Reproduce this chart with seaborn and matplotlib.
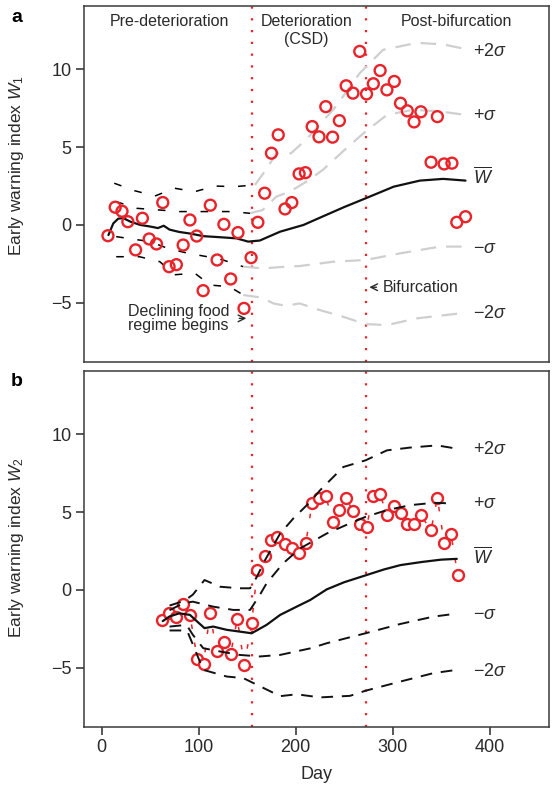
import numpy as np
import pandas as pd
import matplotlib
matplotlib.use("Agg")
import matplotlib.pyplot as plt
import seaborn as sns

# ---------------- data ----------------
# Panel a: early warning index W1
a_day = [6.5, 14, 21, 27, 35, 42, 49, 56.5, 63, 69.5, 77, 84, 91, 98, 104.6, 112, 119, 126,
         133, 140.5, 146.7, 154, 161, 168, 175, 182, 189, 196, 203.5, 210, 217, 224, 231,
         238, 245, 252, 259, 266, 273, 280, 287, 294, 301.6, 308, 315, 322, 329, 339.5,
         346, 353, 361, 366, 375]
a_w = [-0.69, 1.14, 0.88, 0.21, -1.6, 0.43, -0.9, -1.22, 1.44, -2.68, -2.55, -1.29, 0.32,
       -0.71, -4.22, 1.27, -2.25, 0.04, -3.47, -0.49, -5.36, -2.1, 0.17, 2.04, 4.61, 5.79,
       1.03, 1.44, 3.28, 3.36, 6.32, 5.66, 7.6, 5.64, 6.7, 8.94, 8.47, 11.15, 8.42, 9.07,
       9.92, 8.68, 9.22, 7.82, 7.33, 6.62, 7.27, 4.03, 6.96, 3.92, 3.97, 0.17, 0.53]

a_mean_day = [7, 12, 17, 22, 30, 40, 50, 58, 64, 70, 80, 91, 105, 125, 139, 151, 163, 184,
              208, 228, 250, 272, 301, 328, 352, 375]
a_mean = [-0.65, 0.1, 0.4, 0.45, 0.2, 0.0, -0.1, -0.2, -0.05, -0.3, -0.45, -0.55, -0.72,
          -0.8, -0.86, -1.07, -1.0, -0.43, 0.0, 0.55, 1.15, 1.71, 2.46, 2.85, 2.96, 2.85]

a_p2_day = [13, 34, 55, 75, 96, 117, 137, 158, 170, 180, 195, 211, 240, 266, 290, 325, 352, 375]
a_p2 = [2.68, 2.2, 1.86, 2.36, 2.14, 2.5, 2.46, 2.57, 3.6, 4.6, 4.6, 5.5, 7.5, 9.75, 11.25,
        11.7, 11.6, 11.3]
a_p1_day = [15, 36, 60, 80, 105, 132, 153, 166, 180, 194, 211, 228, 250, 270, 294, 321, 349, 375]
a_p1 = [1.5, 1.07, 0.96, 0.86, 0.86, 0.86, 0.75, 0.96, 1.82, 2.14, 2.78, 3.54, 4.8, 5.9,
        7.07, 7.4, 7.29, 7.07]
a_m1_day = [15, 50, 68, 89, 108, 125, 146, 166, 190, 204, 239, 272, 308, 349, 375]
a_m1 = [-0.75, -1.07, -1.5, -1.82, -2.03, -2.25, -2.68, -2.79, -2.68, -2.64, -2.36, -2.25,
        -1.82, -1.39, -1.39]
a_m2_day = [15, 39, 60, 75, 96, 112, 132, 146, 165, 177, 190, 204, 225, 249, 272, 294, 325, 375]
a_m2 = [-2.04, -2.04, -2.36, -3.2, -3.1, -3.86, -3.97, -4.5, -4.67, -5.04, -5.2, -5.04,
        -5.47, -5.9, -6.37, -6.43, -6.0, -5.64]

# Panel b: early warning index W2
b_day = [62.7, 69.5, 77, 84, 91, 98.5, 105, 111.6, 118.5, 126, 133, 139.8, 147, 154.6,
         160.4, 168.4, 175, 181, 189, 196, 203.5, 210.5, 217, 224.5, 231, 238, 245, 252,
         259, 266, 273, 280, 287, 294, 301.6, 308, 315, 322, 329, 339.5, 346, 353, 360, 367]
b_w = [-1.92, -1.45, -1.71, -0.9, -1.6, -4.42, -4.76, -1.5, -3.95, -3.35, -4.1, -1.86,
       -4.81, -2.14, 1.28, 2.2, 3.2, 3.42, 2.95, 2.71, 2.39, 3.05, 5.61, 5.94, 6.05, 4.4,
       5.17, 5.9, 5.08, 4.27, 4.06, 6.07, 6.15, 4.79, 5.4, 4.96, 4.27, 4.27, 4.79, 3.85,
       5.92, 2.99, 3.59, 0.96]

b_mean_day = [63, 70, 80, 91, 98, 106, 115, 129, 142, 154.6, 170, 184, 201, 215, 232, 250,
              273, 291, 308, 330, 350, 366]
b_mean = [-2.0, -1.7, -1.5, -1.6, -2.0, -2.45, -2.35, -2.56, -2.67, -2.78, -2.24, -1.6,
          -1.07, -0.64, 0.04, 0.5, 0.96, 1.32, 1.6, 1.8, 1.95, 2.0]

b_p2_day = [70, 85, 94, 106, 122, 142, 153, 160, 168.4, 184, 197.6, 214.9, 225, 249, 272,
            294, 318, 345.7, 366]
b_p2 = [-1.0, -0.7, -0.3, 0.64, 0.21, 0.11, 0.11, 0.85, 1.92, 3.63, 4.6, 5.66, 6.4, 7.9,
        8.33, 8.97, 9.15, 9.29, 9.08]
b_p1_day = [70, 84, 94, 115, 135.6, 153, 163, 170, 187, 204.5, 232, 259.6, 272, 294, 318,
            342, 363]
b_p1 = [-1.3, -0.85, -0.75, -1.07, -1.28, -1.28, -0.32, 0.43, 1.71, 2.67, 3.63, 4.38, 4.7,
        5.13, 5.45, 5.6, 5.56]
b_m1_day = [70, 87.5, 94, 104.7, 122, 142, 163, 184, 215, 232, 272, 308, 342, 363]
b_m1 = [-2.35, -2.24, -2.88, -3.74, -3.95, -4.17, -4.27, -4.17, -3.75, -3.42, -2.78, -2.18,
        -1.71, -1.54]
b_m2_day = [70, 88, 94, 104.7, 129, 146, 163, 184, 201, 225, 256, 272, 308, 342, 366]
b_m2 = [-2.6, -2.6, -3.5, -5.13, -5.56, -5.66, -6.18, -6.82, -6.7, -6.9, -6.8, -6.47, -5.88,
        -5.34, -5.13]

phase_days = [155, 272]
x_ticks = [0, 100, 200, 300, 400]
y_ticks = [-5, 0, 5, 10]

# ---------------- style ----------------
sns.set_theme(style="ticks")
plt.rcParams["font.family"] = ["Liberation Sans", "DejaVu Sans"]
plt.rcParams["mathtext.fontset"] = "custom"
plt.rcParams["mathtext.rm"] = "Liberation Sans"
plt.rcParams["mathtext.it"] = "Liberation Sans:italic"
plt.rcParams["mathtext.bf"] = "Liberation Sans:bold"

RED = "#e8232a"
INK = "#2a2a2a"
LGRAY = "#cfcfcf"

fig = plt.figure(figsize=(5.58, 7.92), dpi=100)
ax_a = fig.add_axes([0.1505, 0.543, 0.8333, 0.4495])
ax_b = fig.add_axes([0.1505, 0.0821, 0.8333, 0.4495])

for ax in (ax_a, ax_b):
    ax.set_xlim(-18.2, 461)
    ax.set_ylim(-8.8, 14.07)
    for s in ax.spines.values():
        s.set_color("#3a3a3a")
        s.set_linewidth(1.1)
        s.set_visible(True)
    ax.set_yticks(y_ticks)
    ax.tick_params(direction="out", length=6, width=1.1, colors=INK, labelsize=13, pad=3)
    for d in phase_days:
        ax.axvline(d, color=RED, lw=1.6, linestyle=(0, (1.0, 4.3)), zorder=1)

# ---------------- panel a ----------------
split = 160
for dd, vv in [(a_p2_day, a_p2), (a_p1_day, a_p1), (a_m1_day, a_m1), (a_m2_day, a_m2)]:
    dd = np.array(dd); vv = np.array(vv)
    n_pre = int((dd <= split).sum())
    sns.lineplot(x=dd[:n_pre], y=vv[:n_pre], ax=ax_a, sort=False, estimator=None,
                 color="black", lw=1.1, linestyle=(0, (5, 9)), zorder=2, legend=False)
    sns.lineplot(x=dd[n_pre - 1:], y=vv[n_pre - 1:], ax=ax_a, sort=False, estimator=None,
                 color=LGRAY, lw=1.6, linestyle=(0, (7, 4.5)), zorder=2, legend=False)
sns.lineplot(x=a_mean_day, y=a_mean, ax=ax_a, sort=False, estimator=None,
             color="#111111", lw=1.6, zorder=3, legend=False)
sns.scatterplot(x=a_day, y=a_w, ax=ax_a, marker="o", s=62, facecolor="none",
                edgecolor=RED, linewidth=1.7, zorder=4, legend=False)
ax_a.set_xticks([])
ax_a.set_ylabel("Early warning index $W_1$", fontsize=12.5, color=INK)
ax_a.yaxis.set_label_coords(-0.125, 0.553)

tkw = dict(fontsize=11.5, color=INK)
ax_a.text(70, 13.1, "Pre-deterioration", ha="center", va="center", **tkw)
ax_a.text(211, 13.1, "Deterioration", ha="center", va="center", **tkw)
ax_a.text(211, 11.9, "(CSD)", ha="center", va="center", **tkw)
ax_a.text(366, 13.1, "Post-bifurcation", ha="center", va="center", **tkw)
ax_a.text(27, -6.0, "Declining food\nregime begins", ha="left", va="center",
          linespacing=0.95, **tkw)
ax_a.annotate("", xy=(152, -6.0), xytext=(139, -6.0),
              arrowprops=dict(arrowstyle="->", color=INK, lw=1.0))
ax_a.annotate("", xy=(273, -4.0), xytext=(286, -4.0),
              arrowprops=dict(arrowstyle="->", color=INK, lw=1.0))
ax_a.text(290, -4.0, "Bifurcation", ha="left", va="center", **tkw)

skw = dict(fontsize=13, color=INK, ha="left", va="center")
ax_a.text(383, 11.14, r"$+2\sigma$", **skw)
ax_a.text(383, 7.03, r"$+\sigma$", **skw)
ax_a.text(383, 3.1, r"$\overline{W}$", **skw)
ax_a.text(383, -1.5, r"$-\sigma$", **skw)
ax_a.text(383, -5.72, r"$-2\sigma$", **skw)

# ---------------- panel b ----------------
for dd, vv in [(b_p2_day, b_p2), (b_p1_day, b_p1), (b_m1_day, b_m1), (b_m2_day, b_m2)]:
    sns.lineplot(x=dd, y=vv, ax=ax_b, sort=False, estimator=None, color="#111111",
                 lw=1.4, linestyle=(0, (6, 4.5)), zorder=4, legend=False)
sns.lineplot(x=b_mean_day, y=b_mean, ax=ax_b, sort=False, estimator=None,
             color="#111111", lw=1.6, zorder=4, legend=False)
sns.lineplot(x=b_day, y=b_w, ax=ax_b, sort=False, estimator=None, color=RED,
             lw=1.1, linestyle=(0, (3, 9)), zorder=2, legend=False)
sns.scatterplot(x=b_day, y=b_w, ax=ax_b, marker="o", s=62, facecolor="white",
                edgecolor=RED, linewidth=1.7, zorder=3, legend=False)
ax_b.set_xticks(x_ticks)
ax_b.set_xlabel("Day", fontsize=13, color=INK, labelpad=7)
ax_b.set_ylabel("Early warning index $W_2$", fontsize=12.5, color=INK)
ax_b.yaxis.set_label_coords(-0.125, 0.503)

ax_b.text(383, 9.0, r"$+2\sigma$", **skw)
ax_b.text(383, 5.54, r"$+\sigma$", **skw)
ax_b.text(383, 2.1, r"$\overline{W}$", **skw)
ax_b.text(383, -1.6, r"$-\sigma$", **skw)
ax_b.text(383, -5.22, r"$-2\sigma$", **skw)

fig.text(17 / 558, 1 - 17 / 792, "a", fontsize=14, fontweight="bold", ha="center",
         va="center", color="black")
fig.text(17 / 558, 1 - 382 / 792, "b", fontsize=14, fontweight="bold", ha="center",
         va="center", color="black")

fig.savefig("out.png", dpi=100)
